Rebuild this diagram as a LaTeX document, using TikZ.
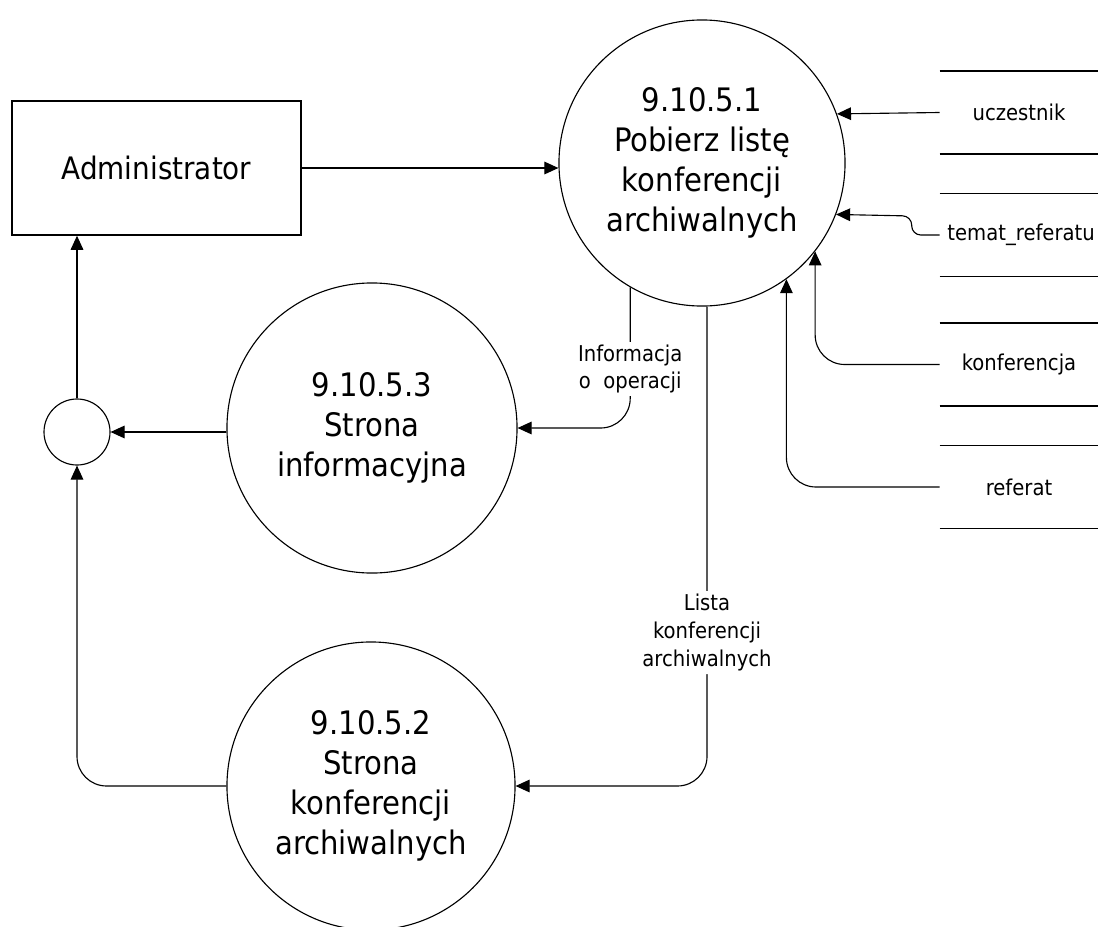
\documentclass[tikz,border=0pt]{standalone}
\usepackage{fontspec}
\setmainfont{DejaVu Sans}[FakeStretch=0.9]
\usetikzlibrary{arrows.meta}
\begin{document}
\begin{tikzpicture}[x=0.025cm,y=-0.025cm,
  every node/.style={inner sep=0pt},
  ln/.style={draw=black, line width=0.8pt},
  arr/.style={ln, -{Triangle[length=10pt,width=9pt]}},
  proc/.style={circle, ln, align=center, font=\fontsize{23}{28.5}\selectfont},
  ent/.style={rectangle, ln, line width=1pt, minimum width=7.225cm, minimum height=3.35cm, font=\fontsize{22}{26}\selectfont},
  store/.style={minimum width=3.95cm, minimum height=2.0625cm, font=\fontsize{15.5}{19}\selectfont},
  lab/.style={fill=white, align=center, inner sep=2pt}
]
\clip (0,0) rectangle (1098,927);
\useasboundingbox (0,0) rectangle (1098,927);

% nodes
\node[ent] (admin) at (156.5,168) {Administrator};
\node[proc, minimum size=7.15cm] (p1) at (702,163) {9.10.5.1\\Pobierz listę\\konferencji\\archiwalnych};
\node[proc, minimum size=7.25cm] (p3) at (372,428) {9.10.5.3\\Strona\\informacyjna};
\node[proc, minimum size=7.2cm] (p2) at (371,786) {9.10.5.2\\Strona\\konferencji\\archiwalnych};
\node[circle, ln, minimum size=1.65cm] (sc) at (77,432) {};

\node[store] (ucz) at (1019,112.5) {uczestnik};
\node[store] (tem) at (1019,235) {\hspace*{3pt}temat\_referatu};
\node[store] (konf) at (1019,364.5) {konferencja};
\node[store] (ref) at (1019,487) {referat};
\foreach \s in {ucz,tem,konf,ref}
  {\draw[ln] (\s.north west) -- (\s.north east) (\s.south west) -- (\s.south east);}

% connectors
\draw[arr] (admin.east) -- (p1.west |- admin.east);
\draw[arr] (ucz.west) -- (p1.20.7);
\draw[arr, rounded corners=6.5pt] (tem.west) -- ++(-28,0) -- ++(0,-19) -- (p1.-21.75);
\draw[arr, rounded corners=21pt] (konf.west) -| (p1.-38.4);
\draw[arr, rounded corners=21pt] (ref.west) -| (p1.-54);
\draw[arr, rounded corners=21pt] (p1.-120.25) |- node[lab, pos=0.29, font=\fontsize{15.5}{19.2}\selectfont] {Informacja\\o\ \ operacji} (p3.east);
\draw[arr, rounded corners=21pt] (p1.-88) |- node[lab, pos=0.34, font=\fontsize{15.5}{20}\selectfont] {Lista\\konferencji\\archiwalnych} (p2.east);
\draw[arr] (p3.west |- sc.east) -- (sc.east);
\draw[arr, rounded corners=21pt] (p2.west) -| (sc.south);
\draw[arr] (sc.north) -- (sc.north |- admin.south);
\end{tikzpicture}
\end{document}
